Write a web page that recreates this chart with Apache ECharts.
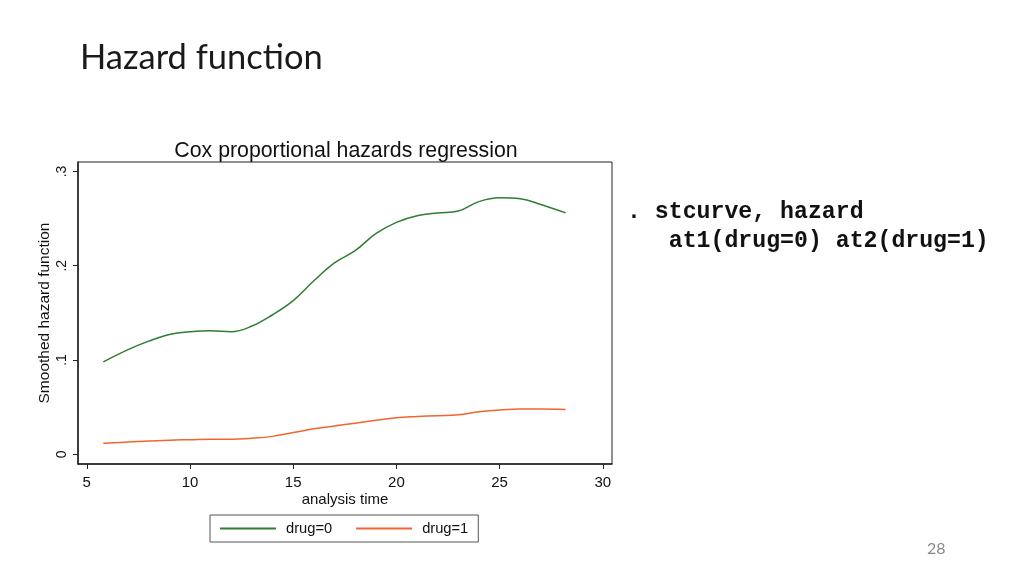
<!DOCTYPE html>
<html>
<head>
<meta charset="utf-8">
<script src="https://cdn.jsdelivr.net/npm/echarts@6/dist/echarts.min.js"></script>
<style>
html,body{margin:0;padding:0;background:#fff;}
#c{width:1024px;height:576px;}
</style>
</head>
<body>
<div id="c"></div>
<script>
// ---- data ----
var times = [5.8, 7, 8, 9, 10, 11, 12, 13, 14, 15, 16, 17, 18, 19, 20, 21, 22, 23, 24, 25, 26, 27, 28.2];
var drug0 = [0.098, 0.111, 0.120, 0.127, 0.130, 0.131, 0.130, 0.136, 0.148, 0.163, 0.184, 0.203, 0.216, 0.234, 0.246, 0.253, 0.256, 0.258, 0.268, 0.272, 0.271, 0.265, 0.256];
var drug1 = [0.0116, 0.013, 0.014, 0.015, 0.0155, 0.016, 0.016, 0.017, 0.019, 0.023, 0.027, 0.030, 0.033, 0.036, 0.0387, 0.040, 0.041, 0.042, 0.045, 0.047, 0.048, 0.048, 0.0475];
var seriesNames = ['drug=0', 'drug=1'];
var xTicks = [5, 10, 15, 20, 25, 30];
var yTicks = [0, 0.1, 0.2, 0.3];
var pageTitle = 'Hazard function';
var chartTitle = 'Cox proportional hazards regression';
var xName = 'analysis time';
var yName = 'Smoothed hazard function';
var codeLines = ['. stcurve, hazard', '   at1(drug=0) at2(drug=1)'];
var pageNumber = '28';

function pairs(xs, ys) { return xs.map(function (x, i) { return [x, ys[i]]; }); }

var chart = echarts.init(document.getElementById('c'), null, {renderer: 'canvas'});
var sans = 'Liberation Sans, Arial, sans-serif';
var mono = 'Liberation Mono, Courier New, monospace';
chart.setOption({
  backgroundColor: '#ffffff',
  animation: false,
  title: [
    {text: pageTitle, left: 75, top: 35, textStyle: {fontFamily: 'Lato, Open Sans, sans-serif', fontWeight: 'normal', fontSize: 34.5, color: '#1a1a1a'}},
    {text: chartTitle, left: 341, textAlign: 'center', top: 136, textStyle: {fontFamily: sans, fontWeight: 'normal', fontSize: 21.3, color: '#111'}}
  ],
  grid: {left: 78, top: 162, right: 412, bottom: 112, show: true, borderColor: '#222', borderWidth: 1, backgroundColor: '#fff'},
  xAxis: {
    type: 'value', min: 4.574, max: 30.445,
    name: xName, nameLocation: 'middle', nameGap: 28, nameMoveOverlap: false,
    nameTextStyle: {fontFamily: sans, fontSize: 15, color: '#111'},
    axisLine: {show: true, onZero: false, lineStyle: {color: '#222', width: 1.5}},
    axisTick: {show: true, length: 5, customValues: xTicks, lineStyle: {color: '#222'}},
    axisLabel: {customValues: xTicks, margin: 11, fontFamily: sans, fontSize: 15, color: '#111'},
    splitLine: {show: false}
  },
  yAxis: {
    type: 'value', min: -0.0103, max: 0.31,
    name: yName, nameLocation: 'middle', nameGap: 25, nameRotate: 90, nameMoveOverlap: false,
    nameTextStyle: {fontFamily: sans, fontSize: 15.5, color: '#111'},
    axisLine: {show: true, onZero: false, lineStyle: {color: '#222', width: 1.5}},
    axisTick: {show: true, length: 5, customValues: yTicks, lineStyle: {color: '#222'}},
    axisLabel: {customValues: yTicks, rotate: 90, margin: 9, fontFamily: sans, fontSize: 14, color: '#111',
      formatter: function (v) { return v === 0 ? '0' : String(Math.round(v * 10) / 10).replace(/^0/, ''); }},
    splitLine: {show: false}
  },
  legend: {
    left: 210, top: 515, orient: 'horizontal',
    itemWidth: 56, itemHeight: 2, itemGap: 24, icon: 'rect',
    padding: [6, 10, 6, 10],
    borderColor: '#555', borderWidth: 1,
    textStyle: {fontFamily: sans, fontSize: 14.7, color: '#111', padding: [0, 0, 0, 5]},
    data: seriesNames
  },
  series: [
    {name: seriesNames[0], type: 'line', smooth: 0.4, showSymbol: false, data: pairs(times, drug0), lineStyle: {color: '#2f7d32', width: 1.5}, itemStyle: {color: '#2f7d32'}},
    {name: seriesNames[1], type: 'line', smooth: 0.4, showSymbol: false, data: pairs(times, drug1), lineStyle: {color: '#f26430', width: 1.5}, itemStyle: {color: '#f26430'}}
  ],
  graphic: [
    {type: 'text', left: 627, top: 201, style: {text: codeLines[0], fontFamily: mono, fontWeight: 'bold', fontSize: 23.2, fill: '#111'}},
    {type: 'text', left: 627, top: 230, style: {text: codeLines[1], fontFamily: mono, fontWeight: 'bold', fontSize: 23.2, fill: '#111'}},
    {type: 'text', left: 927, top: 541, style: {text: pageNumber, fontFamily: 'Lato, Open Sans, sans-serif', fontSize: 16, fill: '#888'}}
  ]
});
</script>
</body>
</html>
